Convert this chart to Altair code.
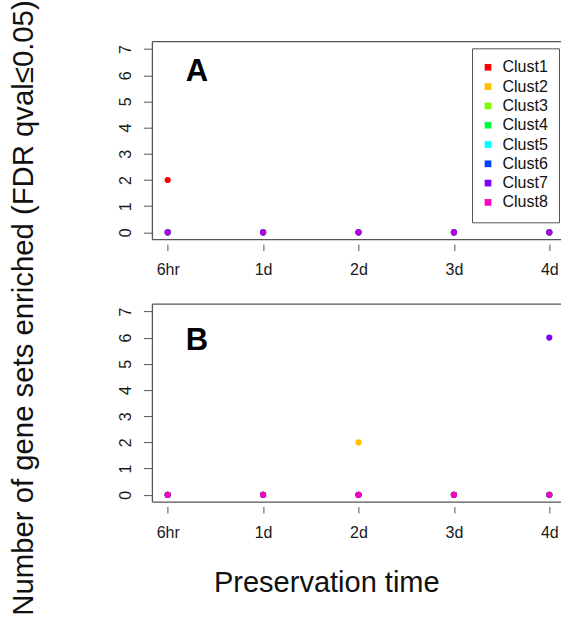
import altair as alt
import pandas as pd

FONT = "Liberation Sans"

times = ["6hr", "1d", "2d", "3d", "4d"]
clusters = ["Clust1", "Clust2", "Clust3", "Clust4", "Clust5", "Clust6", "Clust7", "Clust8"]
colors = ["#FF0000", "#FFBF00", "#80FF00", "#00FF40", "#00FFFF", "#0040FF", "#8000FF", "#FF00BF"]

# Panel A: number of enriched gene sets per cluster at each time
a_clust1 = [2, 0, 0, 0, 0]
a_clust2 = [0, 0, 0, 0, 0]
a_clust3 = [0, 0, 0, 0, 0]
a_clust4 = [0, 0, 0, 0, 0]
a_clust5 = [0, 0, 0, 0, 0]
a_clust6 = [0, 0, 0, 0, 0]
a_clust7 = [0, 0, 0, 0, 0]
a_clust8 = [0, 0, 0, 0, 0]

# Panel B
b_clust1 = [0, 0, 0, 0, 0]
b_clust2 = [0, 0, 2, 0, 0]
b_clust3 = [0, 0, 0, 0, 0]
b_clust4 = [0, 0, 0, 0, 0]
b_clust5 = [0, 0, 0, 0, 0]
b_clust6 = [0, 0, 0, 0, 0]
b_clust7 = [0, 0, 0, 0, 6]
b_clust8 = [0, 0, 0, 0, 0]

a_series = [a_clust1, a_clust2, a_clust3, a_clust4, a_clust5, a_clust6, a_clust7, a_clust8]
b_series = [b_clust1, b_clust2, b_clust3, b_clust4, b_clust5, b_clust6, b_clust7, b_clust8]


def long_frame(series):
    rows = []
    for ci, vals in enumerate(series):
        for ti, v in enumerate(vals):
            rows.append({"cluster": clusters[ci], "time": times[ti], "value": v, "k": ci})
    return pd.DataFrame(rows)


df_a = long_frame(a_series)
df_b = long_frame(b_series)

LEFT, TOP = 152.4, 41.7
W, H, GAP = 408.6, 198, 64.4
BOX_W = 412  # full R plot box width (right edge falls outside the picture)
BOX_COLOR = "#555"

x_scale = alt.Scale(type="point", domain=times, padding=0.1415, align=0.567)
y_scale = alt.Scale(domain=[-0.28, 7.28], nice=False, zero=False)
color_scale = alt.Scale(domain=clusters, range=colors)


def x_axis(title=None, **kw):
    return alt.Axis(
        title=title, domain=False, grid=False, offset=4.4, tickSize=6.5,
        tickColor="#555", tickWidth=1, labelAngle=0, labelBaseline="top",
        labelPadding=11, labelFont=FONT, labelFontSize=16, labelColor="#1a1a1a",
        **kw,
    )


def y_axis(title=None, **kw):
    return alt.Axis(
        title=title, values=list(range(8)), domain=False, grid=False, tickSize=9,
        tickColor="#555", tickWidth=1, labelAngle=270, labelAlign="center",
        labelBaseline="alphabetic", labelPadding=13.3, labelFont=FONT,
        labelFontSize=16, labelColor="#1a1a1a", **kw,
    )


def box_rules():
    one = alt.Data(values=[{}])
    top = alt.Chart(one).mark_rule(color=BOX_COLOR, strokeWidth=1.3).encode(
        x=alt.value(0), x2=alt.value(BOX_W), y=alt.value(0))
    bottom = alt.Chart(one).mark_rule(color=BOX_COLOR, strokeWidth=1.3).encode(
        x=alt.value(0), x2=alt.value(BOX_W), y=alt.value(H))
    left = alt.Chart(one).mark_rule(color=BOX_COLOR, strokeWidth=1.3).encode(
        x=alt.value(0), y=alt.value(0), y2=alt.value(H))
    return [top, bottom, left]


legend_a = alt.Legend(
    orient="none", legendX=319.6, legendY=6.6, title=None, symbolType="square",
    symbolSize=45, symbolStrokeWidth=0, symbolOpacity=1, symbolOffset=-3,
    labelFont=FONT, labelFontSize=16, labelColor="#111", labelOffset=6.5,
    padding=11, rowPadding=3.3, strokeColor="#555", fillColor="white",
)

points_a = alt.Chart(df_a).mark_circle(size=38).encode(
    x=alt.X("time:N", scale=x_scale, sort=times, axis=x_axis()),
    y=alt.Y(
        "value:Q", scale=y_scale,
        axis=y_axis(
            title="Number of gene sets enriched (FDR qval≤0.05)",
            titleAngle=270, titleX=-119.4, titleY=265.8, titleBaseline="alphabetic",
            titleAlign="center", titleFont=FONT, titleFontSize=29.3,
            titleFontWeight="normal", titleColor="#111",
        ),
    ),
    color=alt.Color("cluster:N", scale=color_scale, legend=legend_a),
    opacity=alt.condition(alt.datum.cluster == "Clust8", alt.value(0.45), alt.value(1)),
    order=alt.Order("k:Q"),
)

label_a = alt.Chart(alt.Data(values=[{}])).mark_text(
    text="A", font=FONT, fontSize=31, fontWeight="bold", align="center",
    baseline="middle", color="black",
).encode(x=alt.value(44.6), y=alt.value(30.3))

panel_a = alt.layer(points_a, label_a, *box_rules()).properties(width=W, height=H)

points_b = alt.Chart(df_b).mark_circle(size=38, opacity=1).encode(
    x=alt.X(
        "time:N", scale=x_scale, sort=times,
        axis=x_axis(
            title="Preservation time", titleX=173.9, titleY=85,
            titleBaseline="alphabetic", titleAlign="center", titleFont=FONT,
            titleFontSize=29, titleFontWeight="normal", titleColor="#111",
        ),
    ),
    y=alt.Y("value:Q", scale=y_scale, axis=y_axis()),
    color=alt.Color("cluster:N", scale=color_scale, legend=None),
    order=alt.Order("k:Q"),
)

label_b = alt.Chart(alt.Data(values=[{}])).mark_text(
    text="B", font=FONT, fontSize=31, fontWeight="bold", align="center",
    baseline="middle", color="black",
).encode(x=alt.value(44.6), y=alt.value(36.8))

panel_b = alt.layer(points_b, label_b, *box_rules()).properties(width=W, height=H)

chart = (
    alt.vconcat(panel_a, panel_b, spacing=GAP, bounds="flush")
    .resolve_scale(color="independent")
    .properties(
        autosize=alt.AutoSizeParams(type="none"),
        padding={"left": LEFT, "top": TOP, "right": 561 - LEFT - W, "bottom": 619 - TOP},
        background="white",
    )
    .configure_view(strokeWidth=0)
)

chart.save("out.html", embed_options={"renderer": "svg", "actions": False})
